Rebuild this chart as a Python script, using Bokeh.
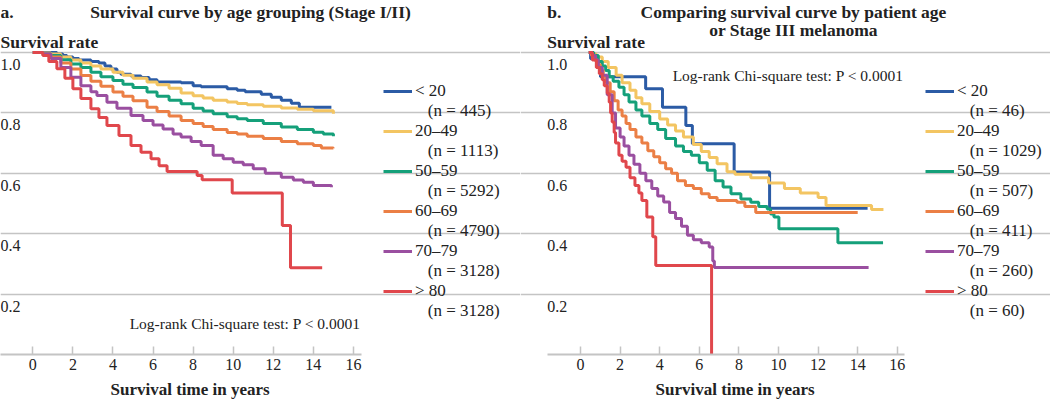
from bokeh.plotting import figure
from bokeh.models import Range1d, FixedTicker, Grid, Legend, LegendItem, Title
from bokeh.layouts import row
from bokeh.embed import file_html
from bokeh.resources import INLINE
from bokeh.core.properties import value

FONT = "Liberation Serif"
TXT = "#222222"
GRID = "#c4c4c4"

# ---------------- data ----------------
x_ticks = [0, 2, 4, 6, 8, 10, 12, 14, 16]
y_ticks = [0.2, 0.4, 0.6, 0.8, 1.0]
y_tick_labels = ["0.2", "0.4", "0.6", "0.8", "1.0"]

groups = ["< 20", "20–49", "50–59", "60–69", "70–79", "> 80"]
colors = ["#2b5ba5", "#f3c562", "#15a07a", "#eb7f45", "#9a4fa0", "#e0474c"]

# Panel a: Stage I/II
a_counts = ["(n = 445)", "(n = 1113)", "(n = 5292)", "(n = 4790)", "(n = 3128)", "(n = 3128)"]
a_t_lt20 = [0, 1.2, 1.5, 1.7, 2.0, 2.3, 2.9, 3.3, 3.6, 3.9, 4.2, 4.4, 4.9, 5.4, 5.8, 6.2, 7.4, 8.0, 8.4, 9.7, 10.2, 10.6, 11.4, 11.9, 12.4, 12.9, 13.3, 14.9]
a_s_lt20 = [1.0, 0.995, 0.99, 0.985, 0.98, 0.975, 0.97, 0.965, 0.955, 0.945, 0.935, 0.928, 0.922, 0.917, 0.91, 0.902, 0.9, 0.89, 0.887, 0.88, 0.875, 0.87, 0.862, 0.852, 0.842, 0.832, 0.819, 0.819]
a_t_20_49 = [0, 0.5, 0.9, 1.4, 1.9, 2.4, 2.9, 3.4, 4.0, 4.5, 5.0, 5.7, 6.2, 6.8, 7.4, 8.0, 8.5, 9.0, 9.7, 10.2, 10.7, 11.5, 12.4, 13.2, 14.0, 15.0]
a_s_20_49 = [1.0, 0.998, 0.995, 0.985, 0.975, 0.965, 0.955, 0.945, 0.935, 0.925, 0.915, 0.902, 0.893, 0.882, 0.866, 0.857, 0.849, 0.842, 0.836, 0.831, 0.827, 0.822, 0.816, 0.812, 0.807, 0.797]
a_t_50_59 = [0, 0.5, 0.9, 1.4, 1.9, 2.4, 2.9, 3.4, 4.0, 4.5, 5.0, 5.7, 6.2, 6.8, 7.4, 8.0, 8.5, 9.0, 9.7, 10.2, 10.7, 11.5, 12.4, 13.2, 14.0, 14.5, 15.0]
a_s_50_59 = [1.0, 0.996, 0.99, 0.976, 0.962, 0.95, 0.935, 0.92, 0.907, 0.895, 0.884, 0.869, 0.855, 0.842, 0.83, 0.815, 0.806, 0.797, 0.787, 0.781, 0.775, 0.765, 0.753, 0.745, 0.736, 0.73, 0.723]
a_t_60_69 = [0, 0.5, 0.9, 1.4, 1.9, 2.4, 2.9, 3.4, 4.0, 4.5, 5.0, 5.7, 6.2, 6.8, 7.4, 8.0, 8.5, 9.0, 9.7, 10.2, 10.7, 11.5, 12.4, 13.2, 14.0, 14.4, 15.0]
a_s_60_69 = [1.0, 0.995, 0.985, 0.965, 0.945, 0.924, 0.905, 0.888, 0.869, 0.855, 0.84, 0.819, 0.805, 0.79, 0.775, 0.765, 0.755, 0.745, 0.735, 0.73, 0.723, 0.715, 0.705, 0.698, 0.692, 0.684, 0.683]
a_t_70_79 = [0, 0.5, 0.9, 1.4, 1.9, 2.4, 2.9, 3.2, 3.7, 4.2, 4.9, 5.5, 6.0, 6.5, 7.0, 7.4, 7.9, 8.4, 9.0, 9.5, 10.0, 10.5, 11.0, 11.6, 12.4, 13.0, 13.5, 14.0, 14.9]
a_s_70_79 = [1.0, 0.995, 0.98, 0.95, 0.918, 0.89, 0.87, 0.858, 0.835, 0.815, 0.791, 0.775, 0.76, 0.747, 0.73, 0.72, 0.705, 0.692, 0.66, 0.648, 0.637, 0.628, 0.615, 0.6, 0.587, 0.578, 0.57, 0.56, 0.554]
a_t_gt80 = [0, 0.5, 0.8, 1.2, 1.6, 2.0, 2.4, 2.9, 3.3, 3.7, 4.3, 4.9, 5.4, 5.9, 6.3, 6.7, 8.2, 8.45, 9.95, 12.45, 12.86, 14.44]
a_s_gt80 = [1.0, 0.99, 0.97, 0.946, 0.915, 0.88, 0.848, 0.814, 0.785, 0.758, 0.725, 0.692, 0.67, 0.648, 0.625, 0.606, 0.593, 0.579, 0.535, 0.427, 0.287, 0.287]

# Panel b: Stage III
b_counts = ["(n = 46)", "(n = 1029)", "(n = 507)", "(n = 411)", "(n = 260)", "(n = 60)"]
b_t_lt20 = [0.42, 0.51, 0.84, 1.01, 3.29, 4.14, 5.32, 5.65, 7.76, 9.55, 14.5]
b_s_lt20 = [1.0, 0.979, 0.951, 0.92, 0.88, 0.819, 0.758, 0.698, 0.604, 0.484, 0.484]
b_t_20_49 = [0.42, 0.6, 0.8, 1.1, 1.4, 1.8, 2.1, 2.5, 2.8, 3.1, 3.5, 4.0, 4.4, 4.8, 5.2, 5.7, 6.1, 6.5, 6.9, 7.4, 7.8, 8.6, 9.5, 10.3, 11.1, 12.0, 12.4, 14.7, 15.3]
b_s_20_49 = [1.0, 0.995, 0.985, 0.97, 0.95, 0.925, 0.9, 0.875, 0.85, 0.83, 0.805, 0.78, 0.76, 0.74, 0.72, 0.695, 0.672, 0.652, 0.632, 0.605, 0.597, 0.585, 0.568, 0.55, 0.535, 0.52, 0.493, 0.48, 0.48]
b_t_50_59 = [0.42, 0.67, 0.9, 1.1, 1.27, 1.45, 1.65, 1.94, 2.2, 2.45, 2.8, 3.1, 3.5, 3.9, 4.3, 4.8, 5.2, 5.6, 6.0, 6.4, 6.8, 7.2, 7.6, 8.1, 8.6, 9.0, 9.43, 9.6, 9.77, 10.02, 13.0, 15.28]
b_s_50_59 = [1.0, 0.99, 0.97, 0.955, 0.94, 0.92, 0.905, 0.885, 0.86, 0.836, 0.81, 0.79, 0.765, 0.745, 0.715, 0.69, 0.672, 0.66, 0.635, 0.61, 0.575, 0.555, 0.532, 0.515, 0.504, 0.49, 0.482, 0.465, 0.455, 0.416, 0.37, 0.37]
b_t_60_69 = [0.42, 0.55, 0.7, 0.85, 1.0, 1.15, 1.3, 1.5, 1.7, 1.9, 2.1, 2.3, 2.5, 2.8, 3.1, 3.4, 3.7, 4.0, 4.3, 4.6, 4.9, 5.3, 5.7, 6.1, 6.5, 6.9, 7.9, 8.3, 8.85, 14.0]
b_s_60_69 = [1.0, 0.99, 0.975, 0.96, 0.94, 0.92, 0.9, 0.87, 0.84, 0.81, 0.79, 0.765, 0.745, 0.72, 0.7, 0.675, 0.655, 0.635, 0.615, 0.6, 0.575, 0.56, 0.55, 0.532, 0.52, 0.51, 0.504, 0.49, 0.47, 0.47]
b_t_70_79 = [0.42, 0.6, 0.76, 0.9, 1.1, 1.35, 1.6, 1.77, 2.0, 2.2, 2.45, 2.7, 3.0, 3.3, 3.6, 3.9, 4.2, 4.5, 4.8, 5.1, 5.4, 5.7, 6.1, 6.5, 6.68, 6.76, 14.55]
b_s_70_79 = [1.0, 0.99, 0.975, 0.95, 0.925, 0.86, 0.80, 0.75, 0.72, 0.69, 0.66, 0.63, 0.60, 0.575, 0.55, 0.525, 0.505, 0.47, 0.45, 0.425, 0.395, 0.38, 0.37, 0.356, 0.31, 0.288, 0.288]
b_t_gt80 = [0.42, 0.6, 0.8, 0.95, 1.1, 1.2, 1.35, 1.45, 1.52, 1.6, 1.7, 1.77, 1.94, 2.1, 2.3, 2.5, 2.75, 2.95, 3.1, 3.35, 3.65, 3.8, 6.62]
b_s_gt80 = [1.0, 0.975, 0.95, 0.93, 0.91, 0.89, 0.865, 0.835, 0.8, 0.77, 0.735, 0.7, 0.66, 0.64, 0.62, 0.585, 0.56, 0.535, 0.51, 0.455, 0.39, 0.295, 0.0]

a_curves = [(a_t_lt20, a_s_lt20), (a_t_20_49, a_s_20_49), (a_t_50_59, a_s_50_59),
            (a_t_60_69, a_s_60_69), (a_t_70_79, a_s_70_79), (a_t_gt80, a_s_gt80)]
b_curves = [(b_t_lt20, b_s_lt20), (b_t_20_49, b_s_20_49), (b_t_50_59, b_s_50_59),
            (b_t_60_69, b_s_60_69), (b_t_70_79, b_s_70_79), (b_t_gt80, b_s_gt80)]

# ---------------- layout constants ----------------
FRAME_H = 354
PX_PER_Y = 302.0
Y_END = FRAME_H / PX_PER_Y


def y_at(page_y):
    return (FRAME_H - page_y) / PX_PER_Y


def make_panel(frame_w, x0, x1, gx0, gx1, curves, counts, legend_x, title_lines, title_cx,
               letter, letter_x, logrank_xy, xlabel_offset):
    p = figure(frame_width=frame_w, frame_height=FRAME_H,
               x_range=Range1d(x0, x1), y_range=Range1d(0, Y_END),
               output_backend="svg", toolbar_location=None, y_axis_location=None,
               min_border=0, title=None)
    p.outline_line_color = None
    for g in p.xgrid:
        g.visible = False
    for g in p.ygrid:
        g.visible = False
    grid = Grid(dimension=1, ticker=FixedTicker(ticks=y_ticks), bounds=(gx0, gx1),
                grid_line_color=GRID, grid_line_width=1.6)
    p.add_layout(grid)

    ax = p.xaxis[0]
    ax.ticker = FixedTicker(ticks=x_ticks)
    ax.bounds = (gx0, gx1)
    ax.axis_line_color = GRID
    ax.axis_line_width = 2
    ax.major_tick_line_color = GRID
    ax.major_tick_line_width = 1.5
    ax.major_tick_in = 8
    ax.major_tick_out = 0
    ax.minor_tick_line_color = None
    ax.major_label_text_font = FONT
    ax.major_label_text_font_size = "16px"
    ax.major_label_text_color = TXT
    ax.major_label_standoff = 4

    # x axis title, placed under the 0-16 tick span
    xt = Title(text="Survival time in years", align="left", offset=xlabel_offset,
               standoff=10, text_font=FONT, text_font_size="17px",
               text_font_style="bold", text_color=TXT)
    p.add_layout(xt, "below")

    renderers = []
    for (t, s), c in zip(curves, colors):
        r = p.step(x=t, y=s, mode="after", line_color=c, line_width=3)
        renderers.append(r)
    dummy = p.line(x=[], y=[], line_alpha=0)

    items = []
    for g, n, r in zip(groups, counts, renderers):
        items.append(LegendItem(label=g, renderers=[r]))
        items.append(LegendItem(label="\u00a0\u00a0\u00a0" + n, renderers=[dummy]))
    leg = Legend(items=items, location=(legend_x, 33), orientation="vertical",
                 glyph_width=29, glyph_height=16, label_height=16, label_standoff=3,
                 spacing=0, padding=0, margin=0, border_line_alpha=0,
                 background_fill_alpha=0, label_text_font=FONT,
                 label_text_font_size="17px", label_text_color=TXT)
    p.add_layout(leg)

    # y tick labels (below each grid line, at left)
    p.text(x=[gx0] * len(y_ticks), y=y_ticks, text=y_tick_labels, y_offset=12,
           text_font=value(FONT), text_font_size="16px", text_color=TXT,
           text_align="left", text_baseline="middle")
    # titles
    ty = [y_at(11), y_at(29)][:len(title_lines)]
    p.text(x=[title_cx] * len(title_lines), y=ty, text=title_lines,
           text_font=value(FONT), text_font_size="17.5px", text_font_style="bold",
           text_color=TXT, text_align="center", text_baseline="middle")
    p.text(x=[letter_x], y=[y_at(11)], text=[letter],
           text_font=value(FONT), text_font_size="17.5px", text_font_style="bold",
           text_color=TXT, text_align="left", text_baseline="middle")
    p.text(x=[letter_x], y=[y_at(41)], text=["Survival rate"],
           text_font=value(FONT), text_font_size="17.5px", text_font_style="bold",
           text_color=TXT, text_align="left", text_baseline="middle")
    p.text(x=[logrank_xy[0]], y=[logrank_xy[1]], text=["Log-rank Chi-square test: P < 0.0001"],
           text_font=value(FONT), text_font_size="15.5px", text_color=TXT,
           text_align="right", text_baseline="middle")
    return p


# left panel: reference px 0..520, year = (px - 32.3) / 20.04
ax0 = (0 - 32.3) / 20.04
pa = make_panel(520, ax0, (520 - 32.3) / 20.04, ax0, 16.4,
                a_curves, a_counts, 383,
                ["Survival curve by age grouping (Stage I/II)"], (250 - 32.3) / 20.04,
                "a.", ax0,
                ((360 - 32.3) / 20.04, (354 - 323) / 302.0), 110)
# right panel: reference px 520..1050, year = (px - 580) / 19.8
pb = make_panel(530, (520 - 580) / 19.8, (1050 - 580) / 19.8, -1.68, 16.36,
                b_curves, b_counts, 405,
                ["Comparing survival curve by patient age", "or Stage III melanoma"],
                (793 - 580) / 19.8, "b.", -1.68,
                ((903 - 580) / 19.8, (354 - 75) / 302.0), 135)

layout = row(pa, pb)
open("out.html", "w").write(file_html(layout, INLINE))
